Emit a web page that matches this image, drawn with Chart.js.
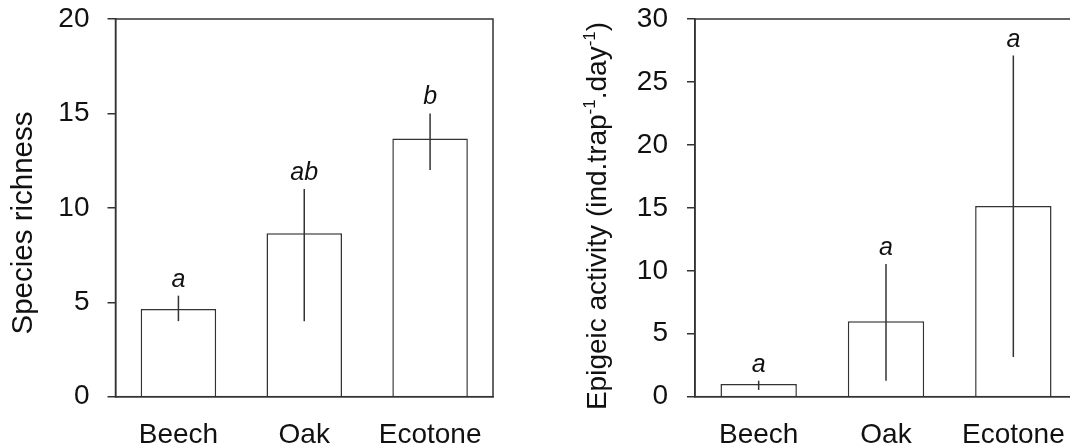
<!DOCTYPE html>
<html>
<head>
<meta charset="utf-8">
<title>Species richness and epigeic activity</title>
<script src="https://cdn.jsdelivr.net/npm/chart.js@4/dist/chart.umd.min.js"></script>
<style>
  html, body { margin: 0; padding: 0; background: #fff; overflow: hidden; }
  #wrap { position: relative; width: 1070px; height: 446px; overflow: hidden; }
  #left { position: absolute; left: 0; top: 0; }
  #right { position: absolute; left: 535px; top: 0; }
</style>
</head>
<body>
<div id="wrap">
  <canvas id="left" width="535" height="446"></canvas>
  <canvas id="right" width="560" height="446"></canvas>
</div>
<script>
// data
const categories = ['Beech', 'Oak', 'Ecotone'];

const richnessMean = [4.65, 8.65, 13.67];
const richnessLow = [4.0, 4.0, 12.0];
const richnessHigh = [5.35, 11.0, 15.0];
const richnessLetters = ['a', 'ab', 'b'];

const activityMean = [1.0, 6.0, 15.15];
const activityLow = [0.53, 1.27, 3.15];
const activityHigh = [1.27, 10.55, 27.1];
const activityLetters = ['a', 'a', 'a'];

const FONT = "'Liberation Sans', Arial, sans-serif";
const INK = '#333333';

// error bars, group letters and the frame round the plot area
const errorBars = {
  id: 'errorBars',
  afterDatasetsDraw(chart, args, opts) {
    const { ctx, chartArea: a } = chart;
    const x = chart.scales.x, y = chart.scales.y;
    ctx.save();
    ctx.strokeStyle = INK;
    ctx.lineWidth = 1.5;
    ctx.strokeRect(a.left, a.top, a.right - a.left, a.bottom - a.top);
    ctx.fillStyle = '#111';
    ctx.font = 'italic 25px ' + FONT;
    ctx.textAlign = 'center';
    ctx.textBaseline = 'alphabetic';
    opts.low.forEach((lo, i) => {
      const px = x.getPixelForValue(i);
      const top = y.getPixelForValue(opts.high[i]);
      ctx.beginPath();
      ctx.moveTo(px, y.getPixelForValue(lo));
      ctx.lineTo(px, top);
      ctx.stroke();
      ctx.fillText(opts.letters[i], px, top - 9);
    });
    ctx.restore();
  }
};

// rotated y title, pieces may be superscript
const yTitle = {
  id: 'yTitle',
  afterDraw(chart, args, opts) {
    const ctx = chart.ctx;
    const main = opts.size + 'px ' + FONT;
    const sup = Math.round(opts.size * 0.6) + 'px ' + FONT;
    ctx.save();
    ctx.fillStyle = '#111';
    ctx.textBaseline = 'alphabetic';
    ctx.textAlign = 'left';
    let total = 0;
    opts.parts.forEach(p => {
      ctx.font = p.sup ? sup : main;
      total += ctx.measureText(p.text).width;
    });
    ctx.translate(opts.x, opts.y);
    ctx.rotate(-Math.PI / 2);
    let pos = -total / 2;
    opts.parts.forEach(p => {
      ctx.font = p.sup ? sup : main;
      ctx.fillText(p.text, pos, p.sup ? -opts.size * 0.38 : 0);
      pos += ctx.measureText(p.text).width;
    });
    ctx.restore();
  }
};

function makeChart(id, means, low, high, letters, yMax, axisWidth, padRight, tickPad, title) {
  return new Chart(document.getElementById(id), {
    type: 'bar',
    data: {
      labels: categories,
      datasets: [{
        data: means,
        backgroundColor: '#ffffff',
        borderColor: INK,
        borderWidth: 1.5,
        barPercentage: 0.6,
        categoryPercentage: 1.0
      }]
    },
    options: {
      responsive: false,
      animation: false,
      devicePixelRatio: 1,
      layout: { padding: { top: 19, right: padRight, left: 0, bottom: 0 } },
      plugins: {
        legend: { display: false },
        tooltip: { enabled: false },
        errorBars: { low: low, high: high, letters: letters },
        yTitle: title
      },
      scales: {
        x: {
          grid: { display: false },
          border: { display: true, color: INK, width: 1.5 },
          ticks: { color: '#111', font: { family: FONT, size: 28 }, padding: 14 },
          afterFit(scale) {
            scale.height = 49.3;
            scale.paddingLeft = 0;
            scale.paddingRight = 0;
          }
        },
        y: {
          min: 0,
          max: yMax,
          grid: { drawOnChartArea: false, color: INK, lineWidth: 1.5, tickLength: 8 },
          border: { display: true, color: INK, width: 1.5 },
          ticks: { stepSize: 5, color: '#111', font: { family: FONT, size: 28 }, padding: tickPad },
          afterFit(scale) {
            scale.width = axisWidth;
            scale.paddingTop = 0;
            scale.paddingBottom = 0;
          }
        }
      }
    },
    plugins: [errorBars, yTitle]
  });
}

makeChart('left', richnessMean, richnessLow, richnessHigh, richnessLetters,
  20, 115.5, 42, 18,
  { x: 32, y: 223, size: 29.5, parts: [{ text: 'Species richness' }] });

makeChart('right', activityMean, activityLow, activityHigh, activityLetters,
  30, 160, 18, 19,
  { x: 71, y: 216, size: 28, parts: [
    { text: 'Epigeic activity (ind.trap' }, { text: '-1', sup: true },
    { text: '.day' }, { text: '-1', sup: true }, { text: ')' }
  ] });
</script>
</body>
</html>
